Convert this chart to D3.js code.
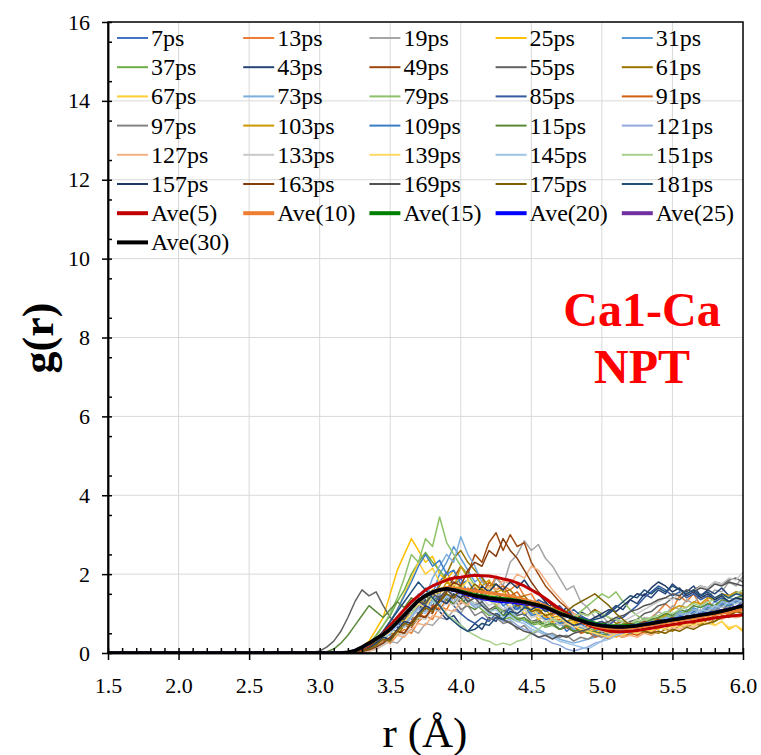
<!DOCTYPE html>
<html>
<head>
<meta charset="utf-8">
<script src="https://cdn.jsdelivr.net/npm/d3@7"></script>
<style>
  body { margin: 0; background: #fff; }
  text { font-family: "Liberation Serif", "Times New Roman", serif; fill: #000; }
  .grid line { stroke: #d9d9d9; stroke-width: 1; }
  .axis path, .axis line { stroke: #000; stroke-width: 1.5; }
  .axis text { font-size: 22px; }
</style>
</head>
<body>
<div id="chart"></div>
<script>
// r grid (Å): 1.5, then 2.90 .. 6.00 every 0.05
const rGrid = [1.5, ...d3.range(58, 121).map(i => +(i * 0.05).toFixed(2))];

const xTicks = [1.5, 2.0, 2.5, 3.0, 3.5, 4.0, 4.5, 5.0, 5.5, 6.0];
const yTicks = [0, 2, 4, 6, 8, 10, 12, 14, 16];

// g(r) per snapshot
const g7 = [0, 0,0,0,0,0,0,0.03,0.08,0.12,0.2, 0.35,0.3,0.55,0.7,0.95,0.85,1.3,1.5,1.35,1.8, 2.05,1.7,1.9,1.5,1.65,1.3,1.5,1.2,1.35,1.1, 1.25,0.95,1.1,0.85,0.95,0.7,0.8,0.55,0.7,0.5, 0.6,0.45,0.65,0.5,0.7,0.55,0.75,0.6,0.8,0.7, 0.9,0.75,0.95,0.85,1.05,0.9,1.1,1.0,1.2,1.05, 1.25,1.15,1.35];
const g13 = [0, 0,0,0,0,0,0,0,0.02,0.05,0.1, 0.18,0.3,0.25,0.45,0.6,0.5,0.8,0.95,0.85,1.2, 1.1,1.45,1.3,1.65,1.5,1.85,1.6,1.95,1.7,1.6, 1.75,1.45,1.5,1.2,1.3,0.95,1.05,0.8,0.85,0.6, 0.7,0.5,0.55,0.4,0.5,0.45,0.6,0.5,0.75,0.9, 1.05,1.25,1.1,1.45,1.3,1.5,1.2,1.35,1.1,1.2, 0.95,1.1,1.0];
const g19 = [0, 0,0,0,0,0,0,0,0,0.02,0.05, 0.1,0.2,0.3,0.25,0.45,0.6,0.5,0.75,0.7,0.9, 0.85,1.1,1.0,1.3,1.2,1.55,1.45,1.9,1.7,2.3, 2.5,2.85,2.6,2.75,2.4,2.2,1.9,1.6,1.7,1.3, 1.15,0.9,0.95,0.75,0.85,0.65,0.8,0.7,0.9,0.85, 1.05,0.95,1.2,1.1,1.35,1.25,1.5,1.4,1.6,1.55, 1.8,1.7,1.95];
const g25 = [0, 0,0,0,0,0,0,0.02,0.05,0.15,0.3, 0.6,0.9,1.5,2.1,2.5,2.9,2.6,2.3,2.45,2.0, 1.85,2.1,1.7,1.85,1.5,1.65,1.35,1.55,1.3,1.45, 1.2,1.35,1.05,1.15,0.9,0.8,0.95,0.7,0.8,0.6, 0.5,0.6,0.45,0.55,0.4,0.5,0.45,0.6,0.5,0.65, 0.6,0.75,0.65,0.8,0.7,0.85,0.75,0.9,0.7,0.8, 0.6,0.7,0.55];
const g31 = [0, 0,0,0,0,0,0,0,0.03,0.08,0.15, 0.3,0.5,0.45,0.8,1.0,1.3,1.2,1.65,1.5,2.0, 2.3,2.7,2.4,2.1,1.8,1.95,1.6,1.5,1.3,1.4, 1.15,1.25,1.0,1.05,0.85,0.9,0.7,0.75,0.6,0.65, 0.55,0.6,0.5,0.65,0.55,0.7,0.6,0.75,0.7,0.85, 0.8,0.95,0.9,1.05,1.0,1.15,1.05,1.25,1.15,1.3, 1.25,1.4,1.35];
const g37 = [0, 0,0,0,0,0,0,0.02,0.05,0.12,0.25, 0.45,0.7,0.95,1.3,1.6,2.0,2.3,2.55,2.3,2.1, 1.85,1.6,1.7,1.4,1.25,1.1,0.95,1.0,0.85,0.9, 0.8,0.85,0.7,0.75,0.65,0.7,0.6,0.65,0.55,0.6, 0.55,0.65,0.6,0.7,0.65,0.75,0.7,0.8,0.75,0.85, 0.8,0.9,0.85,1.0,0.95,1.1,1.05,1.2,1.1,1.25, 1.2,1.3,1.4];
const g43 = [0, 0,0,0,0,0,0,0.02,0.05,0.12,0.2, 0.35,0.5,0.7,0.65,0.95,1.2,1.1,1.35,1.2,1.05, 0.85,0.95,0.7,0.55,0.75,0.6,0.9,0.8,1.1,1.0, 1.25,1.15,1.3,1.2,1.1,1.25,1.0,1.15,0.9,1.05, 0.95,1.1,0.9,1.05,1.2,1.1,1.35,1.25,1.5,1.4, 1.6,1.5,1.75,1.6,1.55,1.7,1.45,1.6,1.5,1.65, 1.45,1.55,1.5];
const g49 = [0, 0,0,0,0,0,0,0,0.02,0.05,0.1, 0.2,0.35,0.3,0.55,0.7,0.65,0.9,1.1,1.0,1.4, 1.6,1.9,2.2,2.0,2.5,2.3,2.8,3.05,2.6,3.0, 2.7,2.8,2.3,2.0,1.7,1.5,1.3,1.15,1.0,0.9, 0.85,0.75,0.8,0.65,0.7,0.6,0.7,0.65,0.75,0.7, 0.8,0.75,0.9,0.85,0.95,0.9,1.0,0.95,1.1,1.0, 1.1,1.05,1.15];
const g55 = [0, 0,0.02,0.05,0.15,0.3,0.55,0.9,1.3,1.6,1.45, 1.55,1.2,0.9,0.75,0.95,1.1,1.0,1.3,1.2,1.45, 1.35,1.5,1.25,1.4,1.2,1.3,1.1,1.2,1.05,1.15, 0.95,1.0,0.8,0.85,0.7,0.75,0.6,0.65,0.55,0.6, 0.5,0.55,0.5,0.6,0.65,0.7,0.8,0.85,1.0,1.05, 1.2,1.25,1.4,1.35,1.5,1.6,1.7,1.65,1.8,1.75, 1.85,1.9,1.8];
const g61 = [0, 0,0,0,0,0,0,0,0.03,0.06,0.12, 0.22,0.35,0.5,0.45,0.7,0.9,0.85,1.2,1.4,1.7, 2.0,2.4,2.6,2.3,2.1,1.9,1.7,1.75,1.55,1.6, 1.4,1.45,1.25,1.3,1.1,1.15,0.95,1.05,0.9,1.0, 0.95,1.1,1.0,0.9,0.75,0.8,0.6,0.65,0.5,0.55, 0.5,0.6,0.55,0.7,0.65,0.75,0.7,0.85,0.8,0.95, 0.9,1.05,1.1];
const g67 = [0, 0,0,0,0,0,0,0,0.02,0.08,0.15, 0.3,0.55,0.8,1.1,1.5,1.9,2.3,2.0,2.15,1.8, 1.9,1.6,1.75,1.45,1.6,1.35,1.5,1.2,1.35,1.15, 1.25,1.0,1.1,0.85,0.95,0.75,0.85,0.65,0.75,0.55, 0.65,0.5,0.6,0.45,0.55,0.5,0.65,0.55,0.7,0.65, 0.8,0.75,0.9,0.85,1.0,0.95,1.1,1.05,1.2,1.15, 1.3,1.25,1.35];
const g73 = [0, 0,0,0,0,0,0,0,0.02,0.05,0.1, 0.2,0.35,0.5,0.7,0.95,1.2,1.5,1.4,1.9,2.2, 2.5,2.3,2.95,2.5,2.2,1.8,1.65,1.4,1.2,1.05, 0.9,0.8,0.7,0.6,0.5,0.45,0.35,0.3,0.25,0.3, 0.35,0.4,0.5,0.45,0.6,0.55,0.7,0.65,0.8,0.75, 0.9,0.85,1.0,0.95,1.1,1.05,1.2,1.15,1.3,1.25, 1.4,1.35,1.5];
const g79 = [0, 0,0,0,0,0,0,0,0.03,0.1,0.2, 0.4,0.7,1.0,1.4,1.9,2.5,2.3,2.9,2.7,3.45, 2.8,2.5,2.2,2.0,1.7,1.5,1.35,1.2,1.05,0.95, 0.9,0.85,0.8,0.75,0.8,0.7,0.75,0.8,0.9,1.05, 1.2,1.35,1.5,1.4,1.55,1.3,1.1,0.95,0.85,0.9, 0.85,0.95,0.9,1.0,1.05,1.1,1.05,1.15,1.2,1.25, 1.3,1.35,1.4];
const g85 = [0, 0,0,0,0,0,0,0.01,0.04,0.1,0.2, 0.3,0.45,0.65,0.9,0.8,1.1,1.3,1.2,1.45,1.35, 1.5,1.2,1.0,0.85,0.75,0.9,0.8,1.0,0.95,1.15, 1.1,1.3,1.2,1.35,1.25,1.1,1.2,1.0,1.1,0.95, 0.85,0.75,0.8,0.7,0.85,0.9,1.05,1.2,1.4,1.55, 1.7,1.6,1.45,1.55,1.4,1.5,1.35,1.45,1.3,1.4, 1.3,1.4,1.35];
const g91 = [0, 0,0,0,0,0,0,0,0.01,0.04,0.08, 0.15,0.25,0.4,0.55,0.5,0.8,1.0,0.9,1.2,1.1, 1.35,1.25,1.5,1.4,1.65,1.5,1.8,1.6,1.7,1.45, 1.55,1.3,1.2,1.05,0.95,0.8,0.85,0.65,0.7,0.5, 0.55,0.4,0.45,0.35,0.45,0.4,0.5,0.45,0.55,0.5, 0.65,0.6,0.75,0.7,0.8,0.75,0.9,0.85,0.95,0.9, 1.0,0.9,0.95];
const g97 = [0, 0,0,0,0,0,0,0.01,0.03,0.08,0.15, 0.25,0.4,0.6,0.55,0.85,1.0,1.2,1.4,1.6,1.45, 1.3,1.4,1.1,1.2,0.95,1.05,0.85,0.9,0.75,0.8, 0.6,0.7,0.5,0.55,0.45,0.5,0.4,0.45,0.3,0.4, 0.35,0.45,0.4,0.5,0.45,0.55,0.5,0.6,0.55,0.7, 0.65,0.8,0.75,0.9,0.85,1.0,0.95,1.1,1.05,1.2, 1.15,1.3,1.25];
const g103 = [0, 0,0,0,0,0,0,0,0.02,0.06,0.12, 0.25,0.4,0.6,0.85,0.8,1.15,1.35,1.25,1.6,1.5, 1.8,1.65,2.2,1.9,2.0,1.7,1.85,1.55,1.6,1.35, 1.4,1.2,1.25,1.05,1.1,0.9,0.95,0.8,0.85,0.7, 0.75,0.6,0.65,0.55,0.6,0.5,0.6,0.55,0.7,0.75, 0.9,0.95,1.1,1.2,1.15,1.3,1.25,1.4,1.35,1.5, 1.45,1.55,1.5];
const g109 = [0, 0,0,0,0,0,0,0.02,0.05,0.1,0.2, 0.35,0.55,0.8,1.1,1.45,1.8,2.2,2.5,2.2,2.35, 2.0,2.1,1.75,1.85,1.55,1.6,1.35,1.45,1.2,1.3, 1.1,1.2,0.95,1.0,0.85,0.9,0.75,0.8,0.65,0.75, 0.6,0.7,0.55,0.65,0.5,0.6,0.55,0.65,0.6,0.75, 0.7,0.85,0.8,0.95,0.9,1.05,1.0,1.15,1.1,1.25, 1.2,1.3,1.35];
const g115 = [0, 0,0,0,0.03,0.1,0.25,0.45,0.7,0.95,1.2, 1.05,0.9,1.1,1.3,1.15,1.4,1.25,1.45,1.3,1.5, 1.35,1.25,1.4,1.2,1.1,1.25,1.05,1.15,0.95,1.0, 0.85,0.9,0.75,0.8,0.7,0.75,0.6,0.7,0.55,0.6, 0.5,0.55,0.45,0.5,0.55,0.6,0.65,0.7,0.8,0.85, 0.9,1.0,0.95,1.1,1.05,1.2,1.15,1.25,1.2,1.35, 1.3,1.4,1.45];
const g121 = [0, 0,0,0,0,0,0,0,0.01,0.04,0.08, 0.15,0.25,0.4,0.55,0.75,0.95,1.15,1.05,1.35,1.5, 1.4,1.6,1.45,1.3,1.15,1.2,1.0,0.95,0.8,0.85, 0.7,0.6,0.55,0.4,0.35,0.25,0.2,0.1,0.05,0.1, 0.15,0.25,0.3,0.45,0.5,0.6,0.55,0.7,0.65,0.8, 0.75,0.9,0.85,1.0,0.95,1.1,1.05,1.2,1.1,1.3, 1.25,1.35,1.3];
const g127 = [0, 0,0,0,0,0,0,0,0,0.02,0.05, 0.1,0.2,0.3,0.45,0.4,0.6,0.75,0.7,0.95,0.9, 1.1,1.05,1.3,1.2,1.5,1.4,1.7,1.6,1.85,1.75, 2.0,1.9,2.2,2.1,1.85,1.6,1.4,1.2,1.0,0.85, 0.75,0.65,0.6,0.5,0.45,0.4,0.45,0.4,0.5,0.45, 0.55,0.5,0.65,0.6,0.7,0.65,0.8,0.75,0.9,0.85, 0.95,0.9,1.0];
const g133 = [0, 0,0,0,0,0,0,0,0.01,0.03,0.07, 0.12,0.2,0.35,0.5,0.45,0.7,0.9,0.85,1.1,1.05, 1.3,1.2,1.45,1.35,1.25,1.4,1.2,1.3,1.1,1.2, 1.0,1.1,0.9,0.95,0.8,0.85,0.7,0.75,0.65,0.7, 0.6,0.65,0.55,0.7,0.65,0.8,0.9,1.0,1.1,1.2, 1.3,1.4,1.35,1.5,1.6,1.55,1.7,1.65,1.8,1.75, 1.9,1.85,2.05];
const g139 = [0, 0,0,0,0,0,0,0,0.02,0.05,0.1, 0.2,0.35,0.55,0.5,0.8,1.0,1.25,1.15,1.45,1.6, 1.5,1.75,1.6,1.85,1.7,1.55,1.65,1.4,1.5,1.25, 1.3,1.1,1.15,0.95,1.0,0.85,0.9,0.75,0.7,0.6, 0.55,0.5,0.45,0.4,0.5,0.45,0.55,0.5,0.6,0.55, 0.65,0.6,0.7,0.65,0.75,0.7,0.8,0.75,0.7,0.8, 0.65,0.7,0.6];
const g145 = [0, 0,0,0,0,0,0,0,0.02,0.05,0.1, 0.2,0.35,0.5,0.7,0.65,0.9,1.1,1.0,1.3,1.2, 1.45,1.3,1.5,1.35,1.2,1.25,1.05,1.1,0.9,0.95, 0.8,0.75,0.6,0.55,0.45,0.4,0.3,0.25,0.2,0.15, 0.1,0.2,0.3,0.35,0.45,0.5,0.6,0.55,0.7,0.65, 0.8,0.75,0.9,0.85,1.0,0.95,1.1,1.05,1.2,1.15, 1.3,1.25,1.35];
const g151 = [0, 0,0,0,0,0,0,0,0.02,0.06,0.12, 0.25,0.4,0.6,0.85,1.1,1.0,1.3,1.5,1.35,1.2, 1.0,0.85,0.7,0.55,0.45,0.35,0.3,0.2,0.25,0.2, 0.3,0.35,0.5,0.6,0.75,0.85,0.8,0.95,0.9,1.0, 0.95,1.05,1.0,0.9,0.85,0.8,0.75,0.85,0.8,0.9, 0.95,1.05,1.0,1.1,1.15,1.25,1.2,1.3,1.35,1.45, 1.4,1.5,1.6];
const g157 = [0, 0,0,0,0,0,0,0,0.02,0.05,0.12, 0.25,0.4,0.35,0.6,0.8,0.75,1.0,1.2,1.1,1.35, 1.25,1.5,1.4,1.6,1.45,1.7,1.55,1.75,1.6,1.8, 1.65,1.85,1.6,1.5,1.3,1.1,0.95,0.8,0.7,0.75, 0.8,0.9,1.0,1.1,1.05,1.2,1.35,1.5,1.45,1.65, 1.8,1.7,1.55,1.65,1.45,1.55,1.4,1.5,1.35,1.45, 1.3,1.4,1.35];
const g163 = [0, 0,0,0,0,0,0,0,0.01,0.04,0.08, 0.15,0.25,0.4,0.55,0.5,0.75,0.95,0.9,1.15,1.3, 1.55,1.8,1.7,2.1,2.3,2.2,2.6,2.45,2.9,2.6, 2.4,2.1,1.8,1.55,1.35,1.2,1.05,0.95,0.85,0.8, 0.7,0.75,0.65,0.6,0.7,0.65,0.75,0.7,0.8,0.75, 0.85,0.8,0.9,0.85,0.95,0.9,1.0,0.95,1.05,1.0, 1.1,1.05,1.15];
const g169 = [0, 0,0,0,0,0,0,0.01,0.03,0.08,0.15, 0.3,0.45,0.65,0.9,0.85,1.15,1.3,1.25,1.5,1.4, 1.6,1.45,1.55,1.3,1.4,1.2,1.05,0.95,0.85,0.75, 0.65,0.55,0.5,0.4,0.45,0.35,0.45,0.4,0.5,0.55, 0.6,0.7,0.75,0.8,0.9,0.95,1.05,1.1,1.2,1.25, 1.35,1.4,1.5,1.45,1.6,1.55,1.65,1.6,1.75,1.7, 1.8,1.75,1.7];
const g175 = [0, 0,0,0,0,0,0,0,0.02,0.05,0.1, 0.2,0.35,0.3,0.55,0.75,0.7,0.95,1.15,1.05,1.3, 1.5,1.4,1.65,1.55,1.75,1.6,1.5,1.55,1.35,1.4, 1.2,1.25,1.05,1.1,0.95,1.0,1.1,1.05,1.2,1.3, 1.4,1.5,1.35,1.2,1.0,0.85,0.7,0.6,0.55,0.5, 0.55,0.5,0.6,0.55,0.65,0.6,0.7,0.75,0.8,0.9, 0.95,1.05,1.0];
const g181 = [0, 0,0,0,0,0,0,0.01,0.04,0.1,0.2, 0.35,0.55,0.8,1.05,1.3,1.55,1.8,1.6,1.4,1.2, 0.95,0.8,0.65,0.55,0.6,0.75,0.7,0.9,0.85,1.05, 1.0,1.15,1.1,1.2,1.05,1.1,0.95,1.0,0.85,0.9, 0.8,0.85,0.9,1.0,1.15,1.3,1.45,1.4,1.6,1.5, 1.65,1.55,1.7,1.6,1.5,1.6,1.45,1.55,1.4,1.5, 1.4,1.5,1.45];

// running averages
const ave5 = [0, 0,0,0,0,0,0,0.01,0.04,0.1,0.2, 0.35,0.5,0.7,0.9,1.1,1.3,1.45,1.6,1.7,1.78, 1.85,1.9,1.92,1.95,1.97,1.96,1.95,1.92,1.88,1.84, 1.78,1.7,1.6,1.5,1.38,1.25,1.12,1.0,0.9,0.8, 0.72,0.65,0.6,0.56,0.54,0.54,0.55,0.57,0.6,0.63, 0.66,0.69,0.72,0.75,0.78,0.8,0.83,0.86,0.89,0.91, 0.93,0.95,0.97];
const ave10 = [0, 0,0,0,0,0,0,0.01,0.05,0.12,0.22, 0.35,0.48,0.62,0.8,0.98,1.17,1.33,1.46,1.56,1.62, 1.66,1.65,1.63,1.6,1.57,1.55,1.53,1.5,1.47,1.44, 1.4,1.36,1.31,1.26,1.2,1.12,1.04,0.96,0.88,0.81, 0.74,0.69,0.65,0.63,0.62,0.62,0.63,0.65,0.68,0.71, 0.74,0.77,0.8,0.83,0.86,0.89,0.92,0.95,0.98,1.01, 1.04,1.07,1.1];
const ave15 = [0, 0,0,0,0,0,0,0.01,0.05,0.13,0.23, 0.35,0.47,0.61,0.79,0.97,1.16,1.34,1.46,1.55,1.61, 1.63,1.61,1.57,1.52,1.48,1.45,1.42,1.4,1.38,1.36, 1.34,1.3,1.26,1.22,1.17,1.1,1.02,0.96,0.9,0.85, 0.8,0.76,0.72,0.7,0.69,0.69,0.7,0.71,0.73,0.76, 0.79,0.82,0.85,0.88,0.91,0.94,0.97,1.0,1.03,1.07, 1.11,1.15,1.19];
const ave20 = [0, 0,0,0,0,0,0,0.01,0.06,0.14,0.24, 0.36,0.47,0.6,0.78,0.96,1.15,1.33,1.45,1.54,1.6, 1.62,1.59,1.53,1.47,1.42,1.38,1.35,1.32,1.3,1.29, 1.27,1.25,1.22,1.18,1.14,1.07,1.0,0.94,0.88,0.82, 0.77,0.73,0.7,0.68,0.67,0.67,0.68,0.7,0.73,0.76, 0.79,0.82,0.85,0.88,0.91,0.94,0.97,1.0,1.03,1.07, 1.11,1.16,1.21];
const ave25 = [0, 0,0,0,0,0,0,0.02,0.06,0.15,0.25, 0.36,0.47,0.6,0.78,0.96,1.15,1.33,1.45,1.54,1.6, 1.63,1.6,1.54,1.49,1.44,1.4,1.37,1.35,1.33,1.32, 1.3,1.27,1.23,1.19,1.15,1.08,1.0,0.94,0.88,0.82, 0.76,0.72,0.69,0.67,0.66,0.66,0.67,0.69,0.72,0.75, 0.78,0.81,0.84,0.87,0.9,0.93,0.96,0.99,1.02,1.06, 1.1,1.15,1.2];
const ave30 = [0, 0,0,0,0,0,0,0.02,0.06,0.15,0.25, 0.36,0.47,0.6,0.78,0.96,1.15,1.33,1.45,1.54,1.6, 1.63,1.6,1.55,1.5,1.45,1.42,1.39,1.37,1.35,1.34, 1.32,1.29,1.25,1.21,1.16,1.08,1.0,0.94,0.88,0.82, 0.76,0.72,0.69,0.67,0.66,0.66,0.67,0.69,0.72,0.75, 0.78,0.81,0.84,0.87,0.9,0.93,0.96,0.99,1.02,1.06, 1.1,1.15,1.2];

const snapNames = ['7ps','13ps','19ps','25ps','31ps','37ps','43ps','49ps','55ps','61ps',
  '67ps','73ps','79ps','85ps','91ps','97ps','103ps','109ps','115ps','121ps',
  '127ps','133ps','139ps','145ps','151ps','157ps','163ps','169ps','175ps','181ps'];
const snapColors = ['#4472C4','#ED7D31','#A5A5A5','#FFC000','#5B9BD5','#70AD47','#264478','#9E480E','#636363','#997300',
  '#FFCD33','#7CAFDD','#8CC168','#335AA1','#D26012','#848484','#CC9A00','#3C7DC4','#5A8A39','#8FAADC',
  '#F4B183','#C9C9C9','#FFD966','#9DC3E6','#A9D18E','#203864','#843C0C','#525252','#7F6000','#1F4E79'];
const snapValues = [g7,g13,g19,g25,g31,g37,g43,g49,g55,g61,g67,g73,g79,g85,g91,g97,g103,g109,g115,g121,
  g127,g133,g139,g145,g151,g157,g163,g169,g175,g181];

const aveNames = ['Ave(5)','Ave(10)','Ave(15)','Ave(20)','Ave(25)','Ave(30)'];
const aveColors = ['#C00000','#ED7D31','#008000','#0000FF','#7030A0','#000000'];
const aveValues = [ave5, ave10, ave15, ave20, ave25, ave30];

const W = 761, H = 755;
const margin = { top: 22, right: 18, bottom: 102, left: 108 };
const width = W - margin.left - margin.right;
const height = H - margin.top - margin.bottom;

const svg = d3.select("#chart").append("svg")
    .attr("width", W)
    .attr("height", H);

const g = svg.append("g")
    .attr("transform", `translate(${margin.left},${margin.top})`);

const x = d3.scaleLinear().domain([1.5, 6.0]).range([0, width]);
const y = d3.scaleLinear().domain([0, 16]).range([height, 0]);

// gridlines
g.append("g").attr("class", "grid")
    .selectAll("line").data(xTicks.slice(1, -1)).join("line")
    .attr("x1", d => x(d)).attr("x2", d => x(d))
    .attr("y1", 0).attr("y2", height);
g.append("g").attr("class", "grid")
    .selectAll("line").data(yTicks.slice(1, -1)).join("line")
    .attr("x1", 0).attr("x2", width)
    .attr("y1", d => y(d)).attr("y2", d => y(d));

// series lines
svg.append("defs").append("clipPath").attr("id", "plot-clip")
    .append("rect").attr("width", width).attr("height", height);

const line = d3.line()
    .x((d, i) => x(rGrid[i]))
    .y(d => y(d));

const lines = g.append("g").attr("clip-path", "url(#plot-clip)");

lines.selectAll(".snap").data(snapValues).join("path")
    .attr("class", "snap")
    .attr("d", line)
    .attr("fill", "none")
    .attr("stroke", (d, i) => snapColors[i])
    .attr("stroke-width", 1.5)
    .attr("stroke-linejoin", "round");

lines.selectAll(".ave").data(aveValues).join("path")
    .attr("class", "ave")
    .attr("d", line)
    .attr("fill", "none")
    .attr("stroke", (d, i) => aveColors[i])
    .attr("stroke-width", (d, i) => i === 5 ? 3.5 : 3)
    .attr("stroke-linejoin", "round");

// axes: major ticks cross the axis line, minor ticks point inward
const xMinor = d3.range(15, 61).map(i => i / 10).filter(v => !xTicks.some(t => Math.abs(t - v) < 1e-6));
const yMinor = d3.range(1, 32, 2).map(i => i / 2);

const xAxis = g.append("g").attr("class", "axis")
    .attr("transform", `translate(0,${height})`)
    .call(d3.axisBottom(x).tickValues(xTicks).tickFormat(d3.format(".1f")).tickSize(7).tickSizeOuter(0));
xAxis.selectAll("text").attr("y", 40).attr("dy", null);

g.append("g").attr("class", "axis")
    .attr("transform", `translate(0,${height})`)
    .call(d3.axisTop(x).tickValues(xTicks.concat(xMinor)).tickSize(5).tickSizeOuter(0).tickFormat(""));

const yAxis = g.append("g").attr("class", "axis")
    .call(d3.axisLeft(y).tickValues(yTicks).tickSize(6).tickSizeOuter(0));
yAxis.selectAll("text").attr("x", -18);

g.append("g").attr("class", "axis")
    .call(d3.axisRight(y).tickValues(yTicks.concat(yMinor)).tickSize(4).tickSizeOuter(0).tickFormat(""));

// frame
g.append("rect")
    .attr("width", width).attr("height", height)
    .attr("fill", "none").attr("stroke", "#000").attr("stroke-width", 1.5);

// axis titles
svg.append("text")
    .attr("x", 425)
    .attr("y", 747)
    .attr("text-anchor", "middle")
    .style("font-size", "43px")
    .text("r (Å)");

svg.append("text")
    .attr("transform", `translate(53,338) rotate(-90)`)
    .attr("text-anchor", "middle")
    .style("font-size", "44px")
    .style("font-weight", "bold")
    .text("g(r)");

// annotation
const note = svg.append("g").attr("text-anchor", "middle")
    .style("font-size", "48px").style("font-weight", "bold");
note.append("text").attr("x", 642).attr("y", 326).style("fill", "#FF0000").text("Ca1-Ca");
note.append("text").attr("x", 642).attr("y", 383).style("fill", "#FF0000").text("NPT");

// legend: 5 columns
const legendItems = snapNames.map((n, i) => ({ name: n, color: snapColors[i], w: 2 }))
    .concat(aveNames.map((n, i) => ({ name: n, color: aveColors[i], w: 4 })));

const legend = svg.append("g").attr("class", "legend");
const item = legend.selectAll("g").data(legendItems).join("g")
    .attr("transform", (d, i) => `translate(${117 + (i % 5) * 126.2},${38 + Math.floor(i / 5) * 29.2})`);
item.append("line")
    .attr("x1", 0).attr("x2", 31)
    .attr("stroke", d => d.color)
    .attr("stroke-width", d => d.w);
item.append("text")
    .attr("x", 34).attr("y", 8)
    .style("font-size", "24px")
    .text(d => d.name);
</script>
</body>
</html>
